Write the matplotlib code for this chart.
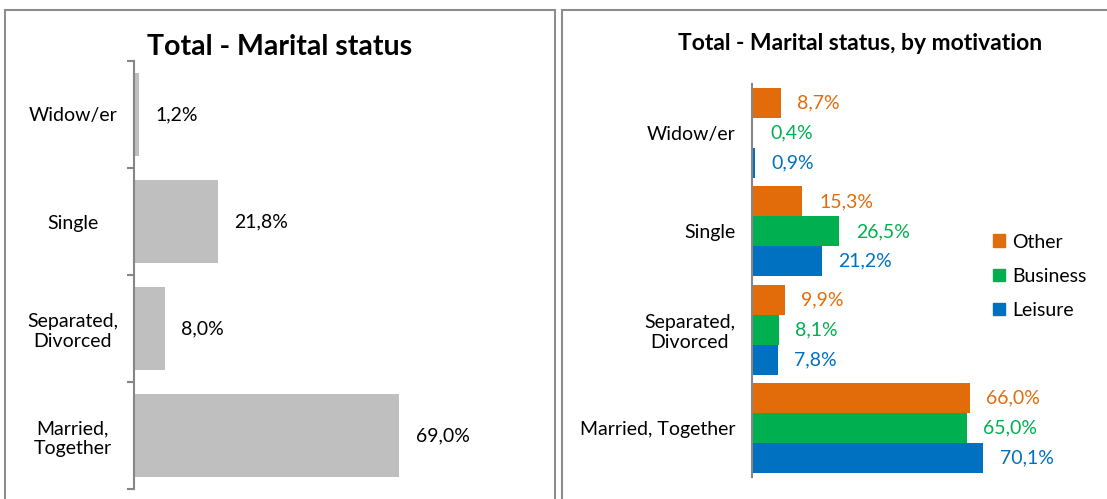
import numpy as np
import matplotlib.pyplot as plt
from matplotlib.patches import Rectangle, Patch

plt.rcParams['font.family'] = ['Lato', 'DejaVu Sans']

# data
categories = ["Widow/er", "Single", "Separated,\nDivorced", "Married,\nTogether"]
categories_right = ["Widow/er", "Single", "Separated,\nDivorced", "Married, Together"]
total = [1.2, 21.8, 8.0, 69.0]
other = [8.7, 15.3, 9.9, 66.0]
business = [0.4, 26.5, 8.1, 65.0]
leisure = [0.9, 21.2, 7.8, 70.1]

C_GRAY = "#bfbfbf"
C_ORANGE = "#e36c0a"
C_GREEN = "#00b050"
C_BLUE = "#0070c0"
C_AXIS = "#868686"
FS = 14


def pct(v):
    return f"{v:.1f}%".replace(".", ",")


W, H = 1107, 499
fig = plt.figure(figsize=(W / 100, H / 100), dpi=100)

# panel borders
for x0, x1 in [(5, 555), (562, 1120)]:
    fig.patches.append(Rectangle((x0 / W, -0.1), (x1 - x0) / W, (H - 10) / H + 0.1,
                                 transform=fig.transFigure, fill=False,
                                 edgecolor="#8c8c8c", lw=1.5))

# ---------------- left chart
ax1 = fig.add_axes([134 / W, 1 - 489 / H, 384 / W, 428 / H])
y = np.arange(len(categories))
ax1.barh(y, total, height=0.785, color=C_GRAY)
for yi, v in zip(y, total):
    ax1.annotate(pct(v), (v, yi), xytext=(12, 0), textcoords="offset points",
                 va="center", ha="left", fontsize=FS, color="black")
ax1.set_xlim(0, 100)
ax1.set_ylim(len(categories) - 0.5, -0.5)
ax1.set_yticks(y)
ax1.set_yticklabels(categories, fontsize=FS, ha="center")
ax1.tick_params(axis="y", which="major", length=0, pad=44)
ax1.set_yticks(np.arange(-0.5, len(categories)), minor=True)
ax1.tick_params(axis="y", which="minor", length=5, width=1.5, color=C_AXIS, direction="out")
ax1.set_xticks([])
for s in ["top", "right", "bottom"]:
    ax1.spines[s].set_visible(False)
ax1.spines["left"].set_color(C_AXIS)
ax1.spines["left"].set_linewidth(1.5)
fig.text(280 / W, 1 - 47 / H, "Total - Marital status", ha="center", va="center",
         fontsize=20.5, fontweight="bold")

# ---------------- right chart
ax2 = fig.add_axes([752 / W, 1 - 477 / H, 330 / W, 393 / H])
bh = 0.305
series = [("Other", other, C_ORANGE, -bh), ("Business", business, C_GREEN, 0),
          ("Leisure", leisure, C_BLUE, bh)]
for name, vals, col, off in series:
    ax2.barh(y + off, vals, height=bh, color=col, label=name)
    for yi, v in zip(y, vals):
        ax2.annotate(pct(v), (v, yi + off), xytext=(12, 0), textcoords="offset points",
                     va="center", ha="left", fontsize=FS, color=col)
ax2.set_xlim(0, 100)
ax2.set_ylim(len(categories) - 0.5, -0.5)
ax2.set_yticks(y)
ax2.set_yticklabels(categories_right, fontsize=FS, ha="right")
ax2.tick_params(axis="y", length=0, pad=12)
for lbl in ax2.get_yticklabels():
    lbl.set_multialignment("center")
ax2.set_xticks([])
for s in ["top", "right", "bottom"]:
    ax2.spines[s].set_visible(False)
ax2.spines["left"].set_color(C_AXIS)
ax2.spines["left"].set_linewidth(1.5)
fig.text(860 / W, 1 - 44 / H, "Total - Marital status, by motivation", ha="center",
         va="center", fontsize=16.5, fontweight="bold")

handles = [Patch(color=c, label=n) for n, _, c, _ in series]
fig.legend(handles=handles, loc="upper left", bbox_to_anchor=(976 / W, 1 - 216 / H),
           frameon=False, fontsize=FS, handlelength=0.6, handleheight=0.6,
           handletextpad=0.35, labelspacing=0.88)

fig.savefig("out.png", dpi=100)
